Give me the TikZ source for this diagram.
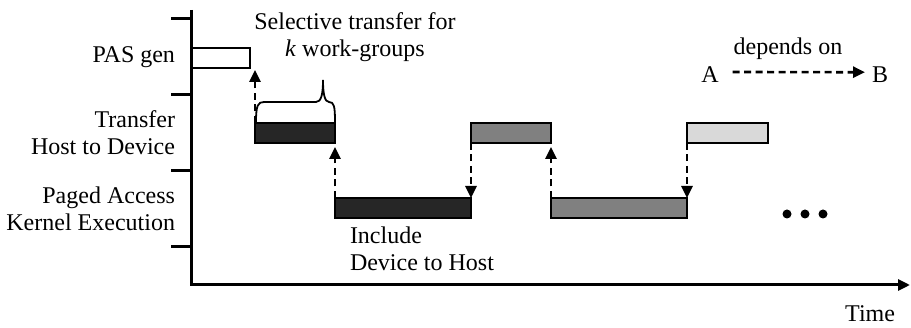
\documentclass[tikz,border=0pt]{standalone}
\usepackage{fontspec}
\setmainfont{Liberation Serif}
\usetikzlibrary{arrows.meta}
\definecolor{darkbar}{HTML}{262626}
\definecolor{midbar}{HTML}{808080}
\definecolor{lightbar}{HTML}{D9D9D9}
\begin{document}
\begin{tikzpicture}[x=1pt,y=-1pt,
  font=\fontsize{24}{27}\selectfont,
  bar/.style={draw, line width=2.2pt, inner sep=0pt, outer sep=0pt, anchor=north west, minimum height=20pt},
  dep/.style={line width=2.7pt, dash pattern=on 7pt off 4.5pt, -{Triangle[length=12pt,width=11pt]}},
  lbl/.style={inner sep=0pt, outer sep=0pt},
  axisline/.style={line width=3pt}]
\useasboundingbox (0,0) rectangle (911,328);
% axes
\coordinate (top) at (191,10);
\coordinate (o) at (191,285);
\coordinate (xend) at (910,285);
\draw[axisline, -{Triangle[length=12pt,width=11pt]}] (top) -- (o) -- (xend);
\foreach \y in {19,95,171,247} \draw[axisline] (171,\y) -- (191,\y);
% row labels
\node[lbl, anchor=base east] (lpas) at (175,63) {PAS gen};
\node[lbl, anchor=base east, align=right] (ltr) at (175,155) {Transfer\\Host to Device};
\node[lbl, anchor=base east, align=right] (lk) at (175,231) {Paged Access\\Kernel Execution};
% bars
\node[bar, minimum width=58pt, fill=white] (pas) at (192,48) {};
\node[bar, minimum width=80pt, fill=darkbar] (t1) at (255,123) {};
\node[bar, minimum width=136pt, fill=darkbar] (k1) at (335,198) {};
\node[bar, minimum width=80pt, fill=midbar] (t2) at (471,123) {};
\node[bar, minimum width=136pt, fill=midbar] (k2) at (551,198) {};
\node[bar, minimum width=81pt, fill=lightbar] (t3) at (687,123) {};
% dependencies
\draw[dep] (t1.north west) -- ([yshift=-2pt]t1.north west |- pas.south);
\draw[dep, shorten >=4pt] (k1.north west) -- (t1.south east);
\draw[dep] (t2.south west) -- (k1.north east);
\draw[dep, shorten >=4pt] (k2.north west) -- (t2.south east);
\draw[dep] (t3.south west) -- (k2.north east);
% brace
\draw[line width=1.8pt] (256,122) .. controls (256,105) and (258,102) .. (264,102) -- (316,102)
  .. controls (321,102) and (323,95) .. (323,80)
  .. controls (323,95) and (325,102) .. (329,102)
  .. controls (334,102) and (335,106) .. (335,122);
\node[lbl, anchor=base, align=center] (sel) at (355,57) {Selective transfer for\\\textit{k} work-groups};
\node[lbl, anchor=base west, align=left] (inc) at (350,271) {Include\\Device to Host};
% dots
\foreach \x in {787,805,823} \fill (\x,214) circle (4.5pt);
% legend
\node[lbl, anchor=base] (deplbl) at (788,55) {depends on};
\node[lbl, anchor=base] (A) at (710,83) {A};
\node[lbl, anchor=base] (B) at (880,83) {B};
\draw[dep] ([xshift=14pt,yshift=3pt]A.east) -- ([xshift=-7pt,yshift=3pt]B.west);
\node[lbl, anchor=base east] (time) at (895,322) {Time};
\end{tikzpicture}
\end{document}
